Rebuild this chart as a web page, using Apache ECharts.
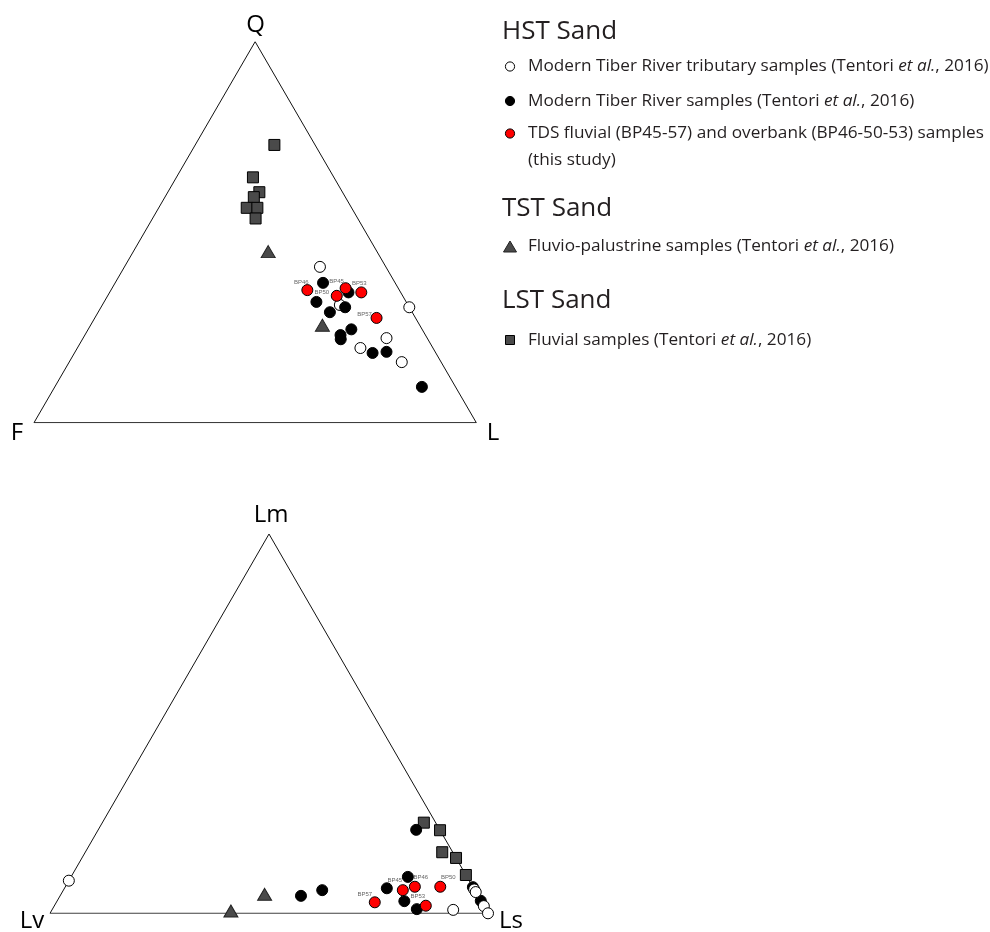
<!DOCTYPE html>
<html><head><meta charset="utf-8">
<script src="https://cdn.jsdelivr.net/npm/echarts@6/dist/echarts.min.js"></script>
<style>html,body{margin:0;padding:0;background:#fff}#c{width:990px;height:932px}</style>
</head><body><div id="c"></div>
<script>
// ---------- QFL diagram: each point is [Q, F, L] (%) ----------
const qflTributary = [[40.9,14.9,44.2],[30.9,15.4,53.7],[30.3,0,69.7],[22.2,9.2,68.6],[19.6,16.4,64.0],[15.9,8.9,75.2]];
const qflTiber = [[36.7,16.3,47.0],[34.2,11.8,54.0],[31.7,20.3,48.0],[30.3,14.5,55.2],[29.0,18.6,52.4],[24.5,16.0,59.5],[23.0,19.2,57.8],[21.9,19.7,58.4],[18.3,14.3,67.4],[18.6,11.0,70.4],[9.4,7.6,83.0]];
const qflTDS = [[34.8,20.8,44.4],[35.3,11.9,52.8],[34.2,8.9,56.9],[33.3,14.9,51.8],[27.5,8.8,63.7]];
const qflTDSNames = ['BP46','BP45','BP53','BP50','BP57'];
const qflPalustrine = [[44.9,24.6,30.5],[25.6,22.0,52.4]];
const qflFluvial = [[72.9,9.2,17.9],[64.4,18.3,17.3],[60.5,18.8,20.7],[59.2,20.7,20.1],[56.4,23.7,19.9],[56.4,21.3,22.3],[53.6,23.1,23.3]];

// ---------- LmLvLs diagram: each point is [Lm, Lv, Ls] (%) ----------
const lmTributary = [[8.6,91.4,0],[6.3,0,93.7],[5.6,0,94.4],[1.9,0,98.1],[0,0,100],[0.9,7.5,91.6]];
const lmTiber = [[22.0,5.4,72.6],[9.6,13.5,76.9],[6.6,19.8,73.6],[3.2,17.5,79.3],[1.1,15.7,83.2],[6.1,34.8,59.1],[4.6,40.4,55.0],[6.9,0,93.1],[3.3,0,96.7]];
const lmTDS = [[6.1,16.4,77.5],[7.0,13.2,79.8],[7.0,7.4,85.6],[2.9,24.4,72.7],[2.0,13.2,84.8]];
const lmTDSNames = ['BP45','BP46','BP50','BP57','BP53'];
const lmPalustrine = [[5.0,48.5,46.5],[0.6,58.4,41.0]];
const lmFluvial = [[23.9,2.7,73.4],[21.9,0,78.1],[16.1,2.4,81.5],[14.6,0,85.4],[10.1,0,89.9]];

// ---------- apex labels ----------
const qflPoles = ['Q','F','L'];
const lmPoles = ['Lm','Lv','Ls'];

// ---------- styling (not data) ----------
const labelOffsets = {
  qfl: {BP46:[-6,-8], BP45:[-9,-7], BP53:[-2,-9], BP50:[-15,-3], BP57:[-12,-4]},
  lm:  {BP45:[-8,-10], BP46:[6,-9], BP50:[8,-9], BP57:[-10,-8], BP53:[-8,-9]}
};

// ternary [top, left, right] -> cartesian [x, y] in a 0..100 box (apex at x=50)
function tern(p){
  const s = p[0]+p[1]+p[2];
  const a = p[0]/s, c = p[2]/s;
  return [(c + a/2)*100, a*100];
}

const chart = echarts.init(document.getElementById('c'), null, {renderer:'canvas'});

const DARK = '#4a4a4a';
function outline(gi){
  return {type:'line', xAxisIndex:gi, yAxisIndex:gi, data:[[100,0,0],[0,100,0],[0,0,100],[100,0,0]].map(tern),
    symbol:'none', silent:true, lineStyle:{color:'#111', width:1}, z:1};
}
function scat(gi, arr, opts){
  return Object.assign({type:'scatter', xAxisIndex:gi, yAxisIndex:gi, clip:false, silent:true,
    data: arr.map(tern)}, opts);
}
const sq = {symbol:'rect', symbolSize:11, itemStyle:{color:DARK, borderColor:'#000', borderWidth:1, opacity:1}, z:2};
const tri = {symbol:'triangle', symbolSize:[14,12], itemStyle:{color:DARK, borderColor:'#222', borderWidth:1, opacity:1}, z:3};
const opn = {symbol:'circle', symbolSize:11, itemStyle:{color:'#fff', borderColor:'#000', borderWidth:1, opacity:1}, z:4};
const blk = {symbol:'circle', symbolSize:11, itemStyle:{color:'#000', borderColor:'#000', borderWidth:1, opacity:1}, z:5};

function red(gi, arr, names, offs){
  return {type:'scatter', xAxisIndex:gi, yAxisIndex:gi, clip:false, silent:true, z:6,
    symbol:'circle', symbolSize:11, itemStyle:{color:'#ff0000', borderColor:'#000', borderWidth:1, opacity:1},
    data: arr.map((p,i)=>({value:tern(p), name:names[i],
      label:{show:true, position:'inside', offset:offs[names[i]], formatter:names[i],
        fontSize:6, color:'#666', fontFamily:'Liberation Sans'}}))
  };
}

const FONT = 'Open Sans';
const TXT = '#231f20';
const ITEM = 17.2;
function legendItem(y, text){
  const parts = text.split('et al.');
  return {type:'text', x:528, y:y, style:{
    text:'{n|'+parts[0]+'}{i|et al.}{n|'+parts[1]+'}', verticalAlign:'middle',
    rich:{n:{fontFamily:FONT, fontSize:ITEM, fill:TXT}, i:{fontFamily:FONT, fontSize:ITEM, fontStyle:'italic', fill:TXT}}
  }};
}
function plainItem(y, t){
  return {type:'text', x:528, y:y, style:{text:t, fontFamily:FONT, fontSize:ITEM, fill:TXT, verticalAlign:'middle'}};
}
function head(y, t){
  return {type:'text', x:502, y:y, style:{text:t, fontFamily:FONT, fontSize:26, fill:TXT, verticalAlign:'middle'}};
}
function pole(x, y, t){
  return {type:'text', x:x, y:y, style:{text:t, fontFamily:FONT, fontSize:24, fill:'#000', align:'center', verticalAlign:'middle'}};
}

const option = {
  backgroundColor:'#fff',
  animation:false,
  grid:[
    {left:34, top:41.7, width:442.3, height:381, containLabel:false},
    {left:50, top:534, width:438, height:379.3, containLabel:false}
  ],
  xAxis:[{gridIndex:0, type:'value', min:0, max:100, show:false},{gridIndex:1, type:'value', min:0, max:100, show:false}],
  yAxis:[{gridIndex:0, type:'value', min:0, max:100, show:false},{gridIndex:1, type:'value', min:0, max:100, show:false}],
  series:[
    outline(0), outline(1),
    scat(0, qflFluvial, sq), scat(0, qflPalustrine, tri), scat(0, qflTributary, opn), scat(0, qflTiber, blk),
    red(0, qflTDS, qflTDSNames, labelOffsets.qfl),
    scat(1, lmFluvial, sq), scat(1, lmPalustrine, tri), scat(1, lmTiber, blk), scat(1, lmTributary, Object.assign({}, opn, {z:5.5})),
    red(1, lmTDS, lmTDSNames, labelOffsets.lm)
  ],
  graphic:[
    pole(255.5, 25, qflPoles[0]), pole(17, 433, qflPoles[1]), pole(493, 433, qflPoles[2]),
    pole(271, 515, lmPoles[0]), pole(32, 921, lmPoles[1]), pole(511, 921, lmPoles[2]),
    head(32, 'HST Sand'),
    {type:'circle', shape:{cx:510, cy:66.5, r:4.6}, style:{fill:'#fff', stroke:'#000', lineWidth:1}},
    legendItem(66.5, 'Modern Tiber River tributary samples (Tentori et al., 2016)'),
    {type:'circle', shape:{cx:510, cy:101, r:4.6}, style:{fill:'#000', stroke:'#000', lineWidth:1}},
    legendItem(101, 'Modern Tiber River samples (Tentori et al., 2016)'),
    {type:'circle', shape:{cx:510, cy:133.5, r:4.6}, style:{fill:'#ff0000', stroke:'#000', lineWidth:1}},
    plainItem(133.5, 'TDS fluvial (BP45-57) and overbank (BP46-50-53) samples'),
    plainItem(160, '(this study)'),
    head(209, 'TST Sand'),
    {type:'polygon', shape:{points:[[510,241],[503.5,252],[516.5,252]]}, style:{fill:DARK, stroke:'#222', lineWidth:1}},
    legendItem(246.5, 'Fluvio-palustrine samples (Tentori et al., 2016)'),
    head(301, 'LST Sand'),
    {type:'rect', shape:{x:505.5, y:335.5, width:9, height:9}, style:{fill:DARK, stroke:'#000', lineWidth:1}},
    legendItem(340, 'Fluvial samples (Tentori et al., 2016)')
  ]
};
chart.setOption(option);
</script>
</body></html>
